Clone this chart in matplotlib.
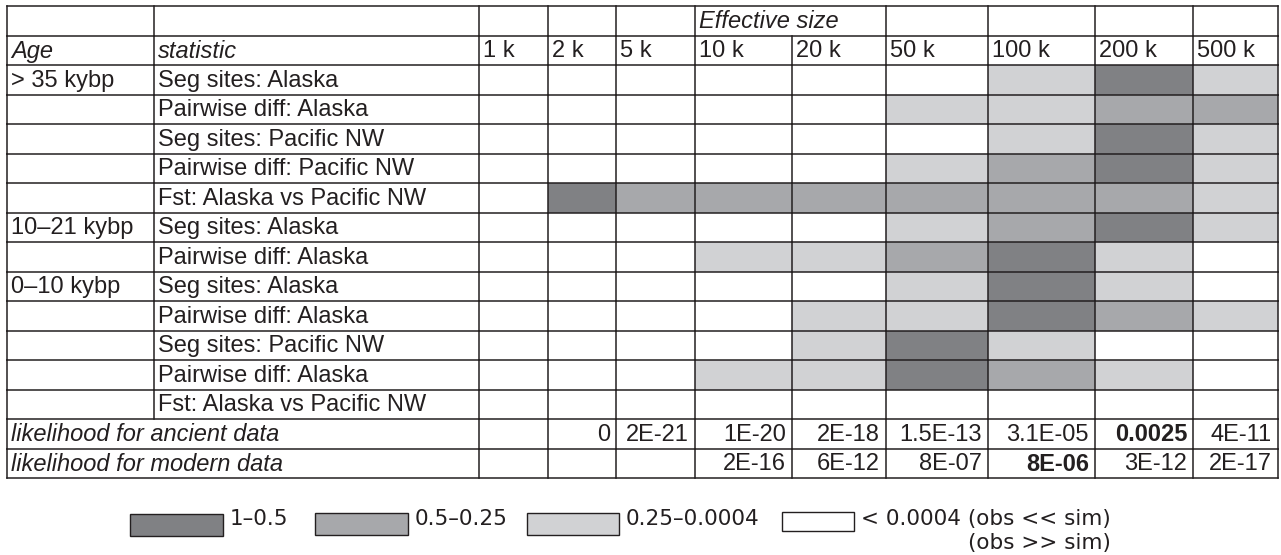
import matplotlib
matplotlib.use("Agg")
import matplotlib.pyplot as plt
from matplotlib.patches import Rectangle

# ---------------- data ----------------
sizes = ["1 k", "2 k", "5 k", "10 k", "20 k", "50 k", "100 k", "200 k", "500 k"]
ages = ["> 35 kybp", "", "", "", "", "10–21 kybp", "", "0–10 kybp", "", "", "", ""]
statistics = [
    "Seg sites: Alaska",
    "Pairwise diff: Alaska",
    "Seg sites: Pacific NW",
    "Pairwise diff: Pacific NW",
    "Fst: Alaska vs Pacific NW",
    "Seg sites: Alaska",
    "Pairwise diff: Alaska",
    "Seg sites: Alaska",
    "Pairwise diff: Alaska",
    "Seg sites: Pacific NW",
    "Pairwise diff: Alaska",
    "Fst: Alaska vs Pacific NW",
]
# probability class per cell: 0 = < 0.0004, 1 = 0.25-0.0004, 2 = 0.5-0.25, 3 = 1-0.5
levels = [
    [0, 0, 0, 0, 0, 0, 1, 3, 1],
    [0, 0, 0, 0, 0, 1, 1, 2, 2],
    [0, 0, 0, 0, 0, 0, 1, 3, 1],
    [0, 0, 0, 0, 0, 1, 2, 3, 1],
    [0, 3, 2, 2, 2, 2, 2, 2, 1],
    [0, 0, 0, 0, 0, 1, 2, 3, 1],
    [0, 0, 0, 1, 1, 2, 3, 1, 0],
    [0, 0, 0, 0, 0, 1, 3, 1, 0],
    [0, 0, 0, 0, 1, 1, 3, 2, 1],
    [0, 0, 0, 0, 1, 3, 1, 0, 0],
    [0, 0, 0, 1, 1, 3, 2, 1, 0],
    [0, 0, 0, 0, 0, 0, 0, 0, 0],
]
lik_ancient = ["", "0", "2E-21", "1E-20", "2E-18", "1.5E-13", "3.1E-05", "0.0025", "4E-11"]
lik_modern = ["", "", "", "2E-16", "6E-12", "8E-07", "8E-06", "3E-12", "2E-17"]
best_ancient = 7
best_modern = 6
legend_labels = ["1–0.5", "0.5–0.25", "0.25–0.0004", "< 0.0004 (obs << sim)\n(obs >> sim)"]

# ---------------- style / layout ----------------
level_colors = ["#ffffff", "#d1d2d4", "#a7a8ab", "#808184"]
line_color = "#231f20"
lw = 1.1
tfont = "Liberation Sans"
fs = 17

col_edges = [7, 154, 479, 548, 616, 695, 792, 886, 988, 1095, 1193, 1278]
top = 6.0
row_h = 29.5
n_rows = 2 + len(statistics) + 2
row_edges = [top + i * row_h for i in range(n_rows + 1)]

fig = plt.figure(figsize=(12.81, 5.55), dpi=100)
ax = fig.add_axes([0, 0, 1, 1])
ax.set_xlim(0, 1281)
ax.set_ylim(555, 0)
ax.axis("off")

# fills
for r, row in enumerate(levels):
    y0 = row_edges[2 + r]
    for c, lev in enumerate(row):
        x0 = col_edges[2 + c]
        x1 = col_edges[3 + c]
        if lev:
            ax.add_patch(Rectangle((x0, y0), x1 - x0, row_h, facecolor=level_colors[lev],
                                   edgecolor="none", zorder=1))

# horizontal lines
for y in row_edges:
    ax.plot([col_edges[0], col_edges[-1]], [y, y], color=line_color, lw=lw, zorder=3,
            solid_capstyle="projecting")

# vertical lines, respecting merged cells
for i in range(n_rows):
    y0, y1 = row_edges[i], row_edges[i + 1]
    for k, x in enumerate(col_edges):
        if i == 0 and k == 6:
            continue  # "Effective size" spans 10 k and 20 k
        if i >= n_rows - 2 and k == 1:
            continue  # likelihood labels span Age and statistic
        ax.plot([x, x], [y0, y1], color=line_color, lw=lw, zorder=3)

def cy(i):
    return (row_edges[i] + row_edges[i + 1]) / 2 + 1

pad = 4
tc = "#231f20"
# header row 1
ax.text(col_edges[5] + pad, cy(0), "Effective size", fontsize=fs, family=tfont,
        style="italic", va="center", ha="left", color=tc)
# header row 2
ax.text(col_edges[0] + pad, cy(1), "Age", fontsize=fs, family=tfont, style="italic",
        va="center", ha="left", color=tc)
ax.text(col_edges[1] + pad, cy(1), "statistic", fontsize=fs, family=tfont, style="italic",
        va="center", ha="left", color=tc)
for c, s in enumerate(sizes):
    ax.text(col_edges[2 + c] + pad, cy(1), s, fontsize=fs, family=tfont,
            va="center", ha="left", color=tc)
# data rows
for r in range(len(statistics)):
    ax.text(col_edges[0] + pad, cy(2 + r), ages[r], fontsize=fs, family=tfont,
            va="center", ha="left", color=tc)
    ax.text(col_edges[1] + pad, cy(2 + r), statistics[r], fontsize=fs, family=tfont,
            va="center", ha="left", color=tc)
# likelihood rows
ia = n_rows - 2
im = n_rows - 1
ax.text(col_edges[0] + pad, cy(ia), "likelihood for ancient data", fontsize=fs, family=tfont,
        style="italic", va="center", ha="left", color=tc)
ax.text(col_edges[0] + pad, cy(im), "likelihood for modern data", fontsize=fs, family=tfont,
        style="italic", va="center", ha="left", color=tc)
for c in range(len(sizes)):
    xr = col_edges[3 + c] - 6
    ax.text(xr, cy(ia), lik_ancient[c], fontsize=fs, family=tfont, va="center", ha="right",
            fontweight="bold" if c == best_ancient else "normal", color=tc)
    ax.text(xr, cy(im), lik_modern[c], fontsize=fs, family=tfont, va="center", ha="right",
            fontweight="bold" if c == best_modern else "normal", color=tc)

# legend
box_x = [130, 315, 527, 782]
box_w = [93, 93, 92, 72]
box_y = [514, 513, 513, 512]
box_h = [22, 22, 22, 19]
legend_colors = [level_colors[3], level_colors[2], level_colors[1], level_colors[0]]
lfs = 15.5
base1 = 525
base2 = 549
fig.canvas.draw()
renderer = fig.canvas.get_renderer()
for i, lab in enumerate(legend_labels):
    ax.add_patch(Rectangle((box_x[i], box_y[i]), box_w[i], box_h[i], facecolor=legend_colors[i],
                           edgecolor="#231f20", lw=1.0, zorder=2))
    lines = lab.split("\n")
    t = ax.text(box_x[i] + box_w[i] + 7, base1, lines[0], fontsize=lfs, family="DejaVu Sans",
                va="baseline", ha="left", color=tc)
    if len(lines) > 1:
        bb = t.get_window_extent(renderer=renderer)
        x_end = ax.transData.inverted().transform((bb.x1, bb.y0))[0]
        ax.text(x_end, base2, lines[1], fontsize=lfs, family="DejaVu Sans",
                va="baseline", ha="right", color=tc)

fig.savefig("out.png", dpi=100)
